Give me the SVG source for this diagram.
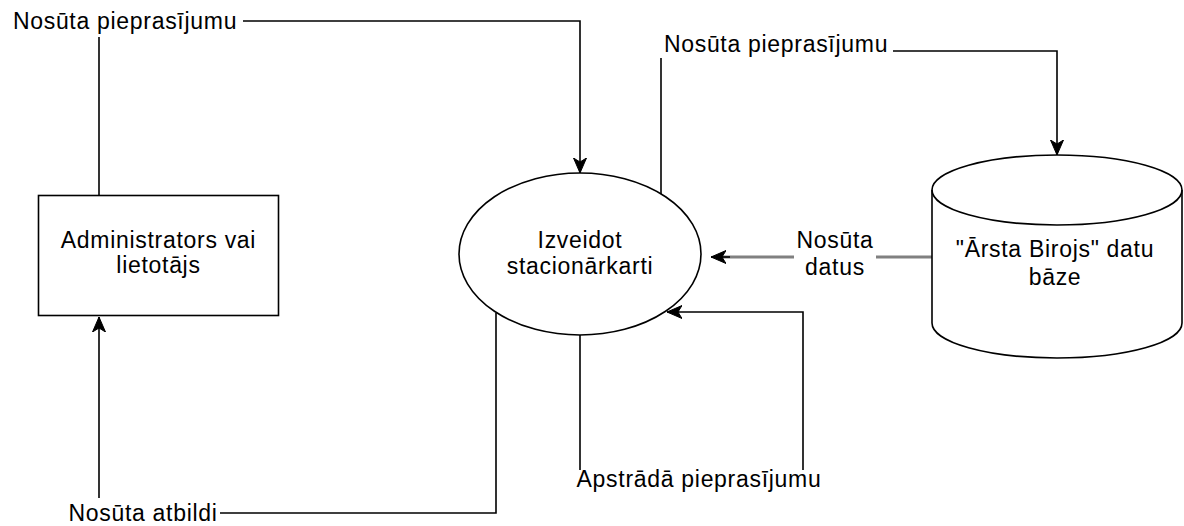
<svg xmlns="http://www.w3.org/2000/svg" width="1184" height="526" viewBox="0 0 1184 526">
  <style>
    text { font-family: "Liberation Sans", Arial, sans-serif; font-size: 23px; letter-spacing: 0.7px; fill: #000; }
    .c { text-anchor: middle; }
    .shape { fill: #fff; stroke: #000; stroke-width: 1.6; }
    .flow { fill: none; stroke: #000; stroke-width: 1.6; }
    .flow-grey { fill: none; stroke: #808080; stroke-width: 3; }
  </style>
  <defs>
    <marker id="arrow" markerUnits="userSpaceOnUse" markerWidth="18" markerHeight="16" refX="15" refY="7" orient="auto">
      <path d="M0,0.5 L15,7 L0,13.5 L4,7 Z" fill="#000" stroke="#000" stroke-width="1"/>
    </marker>
  </defs>
  <rect width="1184" height="526" fill="#fff"/>

  <!-- connectors -->
  <g id="connectors">
    <path class="flow" d="M99,195 V37"/>
    <path class="flow" d="M243,21 H580 V173" marker-end="url(#arrow)"/>
    <path class="flow" d="M661,195 V58"/>
    <path class="flow" d="M893,51 H1057 V155" marker-end="url(#arrow)"/>
    <path class="flow-grey" d="M932,257 H876"/>
    <path class="flow-grey" d="M794,257 H722"/>
    <path class="flow" d="M730,257 H711" marker-end="url(#arrow)"/>
    <path class="flow" d="M580,335 V470"/>
    <path class="flow" d="M803,470 V312 H667" marker-end="url(#arrow)"/>
    <path class="flow" d="M496,313 V513 H220"/>
    <path class="flow" d="M99,498 V317" marker-end="url(#arrow)"/>
  </g>

  <!-- connector labels -->
  <g id="labels">
    <text class="c" x="125" y="29">Nosūta pieprasījumu</text>
    <text class="c" x="776" y="52">Nosūta pieprasījumu</text>
    <text class="c" x="835" y="248">Nosūta</text>
    <text class="c" x="835" y="275">datus</text>
    <text class="c" x="699" y="487">Apstrādā pieprasījumu</text>
    <text class="c" x="143" y="521">Nosūta atbildi</text>
  </g>

  <!-- external entity -->
  <g id="user">
    <rect class="shape" x="38.5" y="195.5" width="240" height="120"/>
    <text class="c" x="158.5" y="248">Administrators vai</text>
    <text class="c" x="158.5" y="273">lietotājs</text>
  </g>

  <!-- process -->
  <g id="process">
    <ellipse class="shape" cx="580" cy="254" rx="121" ry="81"/>
    <text class="c" x="580" y="248">Izveidot</text>
    <text class="c" x="580" y="274">stacionārkarti</text>
  </g>

  <!-- data store -->
  <g id="database">
    <path class="shape" d="M932,190 A125,35 0 0 1 1182,190 V323 A125,35 0 0 1 932,323 Z"/>
    <path class="flow" d="M932,190 A125,35 0 0 0 1182,190"/>
    <text class="c" x="1055" y="257">"Ārsta Birojs" datu</text>
    <text class="c" x="1055" y="285">bāze</text>
  </g>
</svg>
